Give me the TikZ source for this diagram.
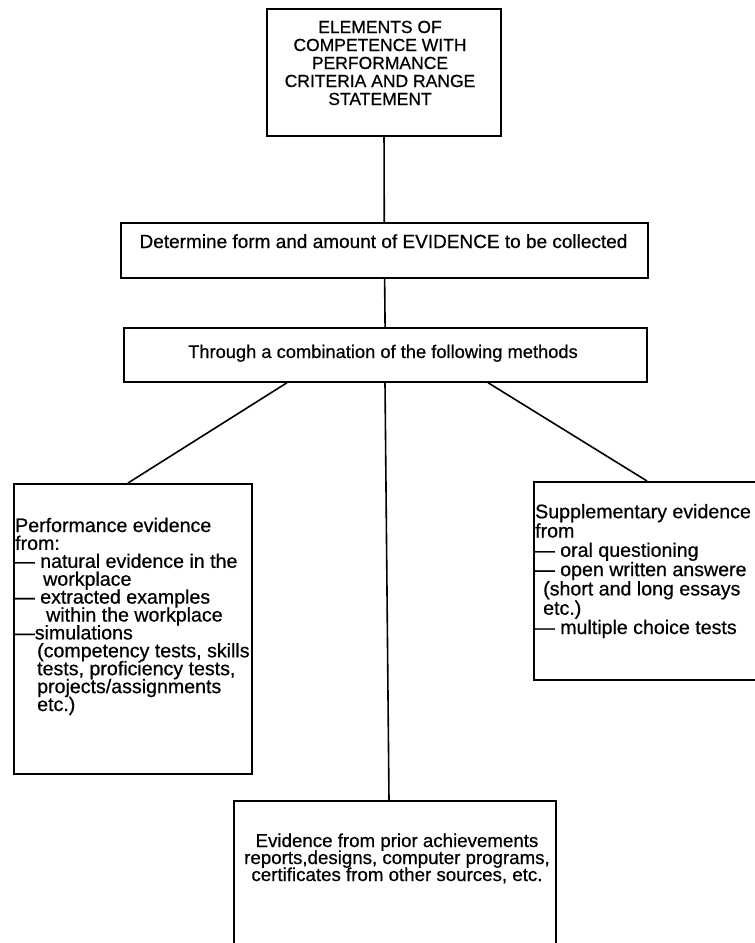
\documentclass[tikz,border=0pt]{standalone}
\usepackage{fontspec}
\setmainfont{Liberation Sans}[FakeBold=0.6]
\newcommand{\tightlines}{\lineskiplimit=-20pt\lineskip=0pt}
\begin{document}
\begin{tikzpicture}[x=1pt,y=-1pt,
  box/.style={draw, line width=1.7pt, inner sep=0pt, anchor=north west},
  link/.style={line width=1.6pt},
  txt/.style={inner sep=0pt}]
\useasboundingbox (0,0) rectangle (755,943);
\clip (0,0) rectangle (755,943);
% boxes
\node[box, minimum width=234pt, minimum height=127pt] (b1) at (266,8) {};
\node[box, minimum width=527pt, minimum height=55pt] (b2) at (120,222) {};
\node[box, minimum width=523pt, minimum height=54pt] (b3) at (123,327) {};
\node[box, minimum width=238pt, minimum height=290pt] (b4) at (13,483) {};
\node[box, minimum width=250pt, minimum height=198pt] (b5) at (533,481) {};
\node[box, minimum width=322pt, minimum height=170pt] (b6) at (233,800) {};
% texts (base anchor = baseline of the last line)
\node[txt, anchor=base, align=center, font=\fontsize{17.5}{18}\selectfont\tightlines] (t1) at (380,105)
  {ELEMENTS OF\\COMPETENCE WITH\\PERFORMANCE\\CRITERIA AND RANGE\\STATEMENT};
\node[txt, anchor=base, font=\fontsize{19}{19}\selectfont] (t2) at (383.5,248)
  {Determine form and amount of EVIDENCE to be collected};
\node[txt, anchor=base, font=\fontsize{18.3}{19}\selectfont] (t3) at (383,358)
  {Through a combination of the following methods};
\node[txt, anchor=base west, align=left, font=\fontsize{19.6}{17.9}\selectfont\tightlines] (t4) at (15,711)
  {Performance evidence\\from:\\— natural evidence in the\\\hspace*{28pt}workplace\\— extracted examples\\\hspace*{31pt}within the workplace\\—simulations\\\hspace*{22pt}(competency tests, skills\\\hspace*{22pt}tests, proficiency tests,\\\hspace*{22pt}projects/assignments\\\hspace*{22pt}etc.)};
\node[txt, anchor=base west, align=left, font=\fontsize{19.6}{19.3}\selectfont\tightlines] (t5) at (535,634)
  {Supplementary evidence\\from\\— oral questioning\\— open written answere\\\hspace*{8pt}(short and long essays\\\hspace*{8pt}etc.)\\— multiple choice tests};
\node[txt, anchor=base, align=center, font=\fontsize{18.7}{17}\selectfont\tightlines] (t6) at (397,881)
  {Evidence from prior achievements\\reports,designs, computer programs,\\certificates from other sources, etc.};
% connectors
\draw[link] (b1) -- (b2);
\draw[link] (b2) -- (b3);
\draw[link] (287,0 |- b3.south) -- (128,0 |- b4.north);
\draw[link] (488,0 |- b3.south) -- (647,0 |- b5.north);
\draw[link] (385,0 |- b3.south) -- (389,0 |- b6.north);
\end{tikzpicture}
\end{document}
